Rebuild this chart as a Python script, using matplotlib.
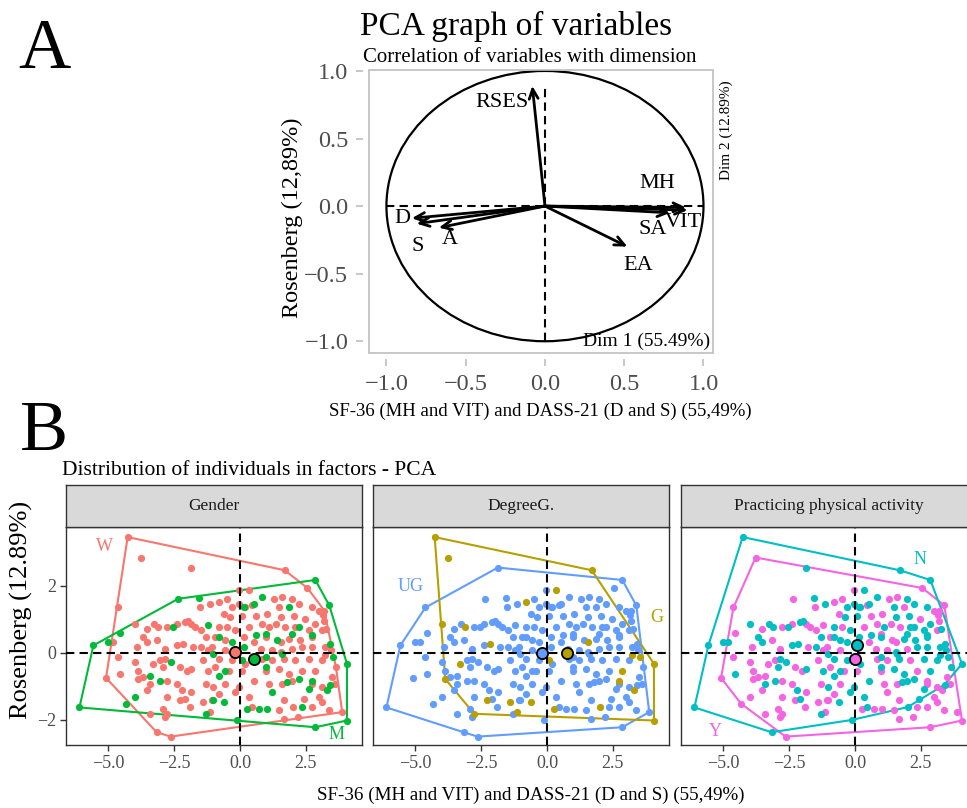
import matplotlib.pyplot as plt
from matplotlib.patches import Circle, Polygon, Rectangle

FIG_W, FIG_H = 967, 808
plt.rcParams["font.family"] = ["Liberation Serif", "DejaVu Serif"]

TICK_GRAY = "#4d4d4d"

# ---- panel A: variable loadings on Dim 1 / Dim 2
var_names = ["RSES", "MH", "VIT", "SA", "EA", "D", "S", "A"]
var_x = [-0.08, 0.89, 0.90, 0.79, 0.52, -0.84, -0.81, -0.67]
var_y = [0.89, -0.01, -0.03, -0.05, -0.30, -0.09, -0.13, -0.16]
var_label_x = [-0.27, 0.71, 0.87, 0.68, 0.59, -0.90, -0.80, -0.60]
var_label_y = [0.77, 0.17, -0.12, -0.17, -0.44, -0.09, -0.30, -0.25]

# ---- panel B: individual coordinates (same individuals in every facet)
# codes: gender W/M, degree U(=UG)/G, activity Y/N
ind_x = [
    # hull / outer individuals
    -4.26, -3.77, -1.86, 1.70, 2.56, 3.20, 3.64, 3.88, -2.63, -3.16, -5.08, -4.61,
    -6.09, -5.56, -4.55, -2.34, -1.55, 2.86, 3.39, 4.06, 4.06, 2.86, -0.10,
    -2.76, -3.86, -3.97, -4.32, 3.40, 2.00, 0.34, 3.21, 3.52,
    # left half, women
    -3.54, -3.26, -3.10, -2.78, -2.40, -2.09, -1.96, -1.84, -1.71, -1.52,
    -1.14, -1.46, -1.27, -3.67, -3.16, -3.54, -3.92, -2.40, -2.15, -2.85,
    -1.77, -1.46, -1.20, -4.61, -3.98, -3.29, -3.03, -2.85, -2.91, -2.28,
    -2.02, -1.84, -1.39, -1.20, -3.86, -3.67, -4.55, -3.41, -3.54, -2.78,
    -2.40, -2.21, -1.84, -1.27, -1.01, -2.78, -2.28, -2.09, -2.91, -1.90,
    -1.39, -2.85, -3.41, -1.14, -4.80,
    # left half, men
    -4.99, -2.55, -1.20, -1.01, -2.63, -3.03, -3.41, -3.98, -1.01, -1.27,
    # right half, women
    -0.80, -0.49, -0.30, -0.04, -0.04, 0.21, 0.46, 1.28, 1.60, 1.98,
    1.47, 2.23, 2.73, 2.99, 3.15, -0.61, -0.36, 0.08, 0.59, 1.03,
    1.54, 2.04, 2.48, 2.86, 3.18, -0.80, -0.49, -0.17, 0.34, 0.84,
    1.09, 1.35, 1.72, 2.10, 2.61, 3.11, 3.25, -0.93, -0.55, 0.15,
    0.53, 0.97, 1.54, 1.85, 2.29, 2.73, -1.05, -0.55, 0.78, 1.22,
    1.54, 1.98, 2.36, 2.73, 3.24, -0.80, -0.30, 0.21, 0.84, 1.22,
    1.66, 2.10, 2.61, 3.11, 3.45, -0.93, -0.42, 0.08, 0.53, 0.97,
    1.47, 1.85, 2.36, 2.86, 3.49, -0.55, -0.04, 1.09, 1.60, 1.98,
    2.73, 3.11, 3.62, -0.80, -0.17, 0.34, 1.66, 2.42, 2.99, 2.73,
    3.11, 2.20, 1.66, -1.05, 0.46, 1.47, 3.37,
    # right half, men
    0.84, 0.53, 1.85, 0.15, 2.23, -0.80, 0.59, 0.97, 1.98, 2.73,
    -0.30, 0.15, 0.97, 1.60, 1.41, 0.08, 0.97, 1.79, 2.23, 2.73,
    2.61, 1.22, 3.30, -0.55, -0.80, 0.27, 0.71, 1.03, 2.36, -0.61,
    3.43,
]
ind_y = [
    3.45, 2.84, 2.54, 2.46, 1.93, 1.26, -0.43, -1.77, -2.50, -2.37, -0.75, 1.35,
    -1.63, 0.22, 0.60, 1.61, 1.64, 2.17, 1.41, -0.33, -2.02, -2.22, -2.00,
    -1.82, -0.78, 0.87, -1.52, -0.95, -1.62, 1.86, -0.08, -0.13,
    0.72, 0.87, 0.77, 0.77, 0.87, 0.91, 0.96, 0.87, 0.77, 1.36,
    1.46, 0.67, 0.47, 0.47, 0.37, 0.32, 0.17, 0.22, 0.27, 0.12,
    0.17, 0.17, 0.07, -0.13, -0.28, -0.33, -0.23, -0.18, -0.43, -0.43,
    -0.53, -0.48, -0.23, -0.53, -0.53, -0.73, -0.63, -0.93, -1.12, -0.83,
    -0.93, -1.12, -1.17, -0.93, -1.03, -1.32, -1.42, -1.37, -1.67, -1.62,
    -1.47, -1.92, -1.82, -1.77, 0.32,
    0.32, 0.77, 0.82, -0.03, -0.28, -0.85, -0.68, -1.32, -1.42, -1.82,
    1.51, 1.61, 1.36, 1.46, 1.86, 1.36, 1.41, 1.61, 1.66, 1.61,
    1.36, 1.46, 1.36, 1.26, 1.14, 1.16, 1.06, 1.11, 1.11, 1.16,
    1.06, 1.11, 1.01, 0.87, 0.96, 0.77, 0.77, 0.67, 0.77, 0.87,
    0.77, 0.87, 0.77, 0.77, 0.67, 0.67, 0.70, 0.47, 0.37, 0.47,
    0.32, 0.47, 0.32, 0.42, 0.37, 0.47, 0.17, 0.07, 0.12, 0.07,
    0.02, 0.12, 0.17, 0.17, 0.17, -0.18, -0.23, -0.33, -0.18, -0.23,
    -0.18, -0.23, -0.18, -0.23, 0.07, -0.43, -0.53, -0.53, -0.83, -0.53,
    -0.48, -0.63, -0.53, -0.53, -0.73, -0.93, -1.03, -0.93, -0.93, -0.83,
    -0.93, -1.03, -0.93, -1.22, -1.17, -1.32, -1.42, -1.37, -1.32, -1.62,
    -1.47, -1.92, -1.97, -1.42, -1.62, -1.72, -1.72,
    1.66, 1.46, 1.36, 1.36, 0.77, 0.47, 0.52, 0.57, 0.57, 0.52,
    0.32, 0.17, -0.13, -0.03, 0.37, -0.23, -0.43, -0.88, -0.78, -0.83,
    -1.07, -1.17, -1.12, -0.53, -0.68, -1.67, -1.67, -1.67, -1.62, -1.47,
    0.27,
]
gender_codes = (
    "WWWWWWWWWWWW" "MMMMMMMMMMM" "WWW" "MM" "WWW" "M"
    + "W" * 55
    + "M" * 10
    + "W" * 97
    + "M" * 31
)
degree_codes = (
    "GGUGUUUUUUUU" "UUUUUUUGGUU" "GGG" "UU" "GGG" "G"
    "UUGUUUUUUU" "UUUUUUUUGU" "UUUUUGUUUU" "UUUUUUUUUU" "UUUUUUGUUU" "GUUGU"
    "UUUUUUUUUU"
    "GUUUUUUUUU" "UUUUUUUUUU" "UUUUUUUUUU" "UUUUUUUUUU" "UUGUUUUUUU"
    "UUUUUUUUUU" "UUUUUUUUUU" "UUUGUUUUUU" "UUUUUUUUUU" "UUUUUUU"
    "UUUUUUUUUU" "UUUUUGUUUG" "UUGUUGUUUG" "U"
)
activity_codes = (
    "NYNNYYNYYNYY" "NNYYNNYNYYN" "YYN" "YN" "NNN" "N"
    "YNNYYNNYYY" "NYNNYNYNNY" "YNYYYYYNNY" "YNYNYYNNYY" "YNYYNYYNYY" "YYYYN"
    "NNYNNNYYYN"
    "YYNNYNYYYN" "NNNYYYNNYY" "NNYNYNYNYY" "NYYNNYNYNN" "YNYNNNYYYY"
    "NYNNNNNNYY" "NYNNNYYYNY" "NNYNYYNYYN" "YYYYNNYNYY" "YYYYNYY"
    "NNYNNNNYNN" "NNNNYNNNNY" "NYYNNYYYYN" "N"
)

# group centroids
gender_levels = ["W", "M"]
gender_cx = [-0.17, 0.53]
gender_cy = [0.03, -0.18]
degree_levels = ["UG", "G"]
degree_cx = [-0.19, 0.76]
degree_cy = [-0.01, -0.01]
activity_levels = ["Y", "N"]
activity_cx = [0.02, 0.06]
activity_cy = [-0.18, 0.22]

level_label_xy = {"W": (-5.15, 3.16), "M": (3.66, -2.43), "UG": (-5.16, 1.97),
                  "G": (4.15, 1.06), "N": (2.47, 2.77), "Y": (-5.28, -2.36)}
level_colors = {"W": "#F8766D", "M": "#00BA38", "UG": "#619CFF",
                "G": "#B79F00", "N": "#00BFC4", "Y": "#F564E3"}


def px_rect(left, top, right, bottom):
    return [left / FIG_W, 1 - bottom / FIG_H, (right - left) / FIG_W, (bottom - top) / FIG_H]


def convex_hull(xs, ys):
    pts = sorted(set(zip(xs, ys)))
    if len(pts) < 3:
        return pts

    def cross(o, a, b):
        return (a[0] - o[0]) * (b[1] - o[1]) - (a[1] - o[1]) * (b[0] - o[0])

    lower, upper = [], []
    for p in pts:
        while len(lower) >= 2 and cross(lower[-2], lower[-1], p) <= 0:
            lower.pop()
        lower.append(p)
    for p in reversed(pts):
        while len(upper) >= 2 and cross(upper[-2], upper[-1], p) <= 0:
            upper.pop()
        upper.append(p)
    return lower[:-1] + upper[:-1]


fig = plt.figure(figsize=(FIG_W / 100, FIG_H / 100), dpi=100)
fig.patch.set_facecolor("white")

# ================= panel A =================
axA = fig.add_axes(px_rect(369, 70, 713, 353))
axA.set_xlim(-1.11, 1.06)
axA.set_ylim(-1.087, 1.007)
axA.add_patch(Circle((0, 0), 1.0, fill=False, lw=1.6, color="black"))
axA.plot([-1, 1], [0, 0], ls=(0, (4, 2.5)), color="black", lw=1.5)
axA.plot([0, 0], [-1, 0.9], ls=(0, (4, 2.5)), color="black", lw=1.5)
for name, x, y, lx, ly in zip(var_names, var_x, var_y, var_label_x, var_label_y):
    axA.annotate("", xy=(x, y), xytext=(0, 0),
                 arrowprops=dict(arrowstyle="->,head_length=0.7,head_width=0.32",
                                 color="black", lw=2.0, shrinkA=0, shrinkB=0))
    axA.text(lx, ly, name, fontsize=16, ha="center", va="center")
axA.text(1.04, -1.0, "Dim 1 (55.49%)", fontsize=14, ha="right", va="center")

for sp in axA.spines.values():
    sp.set_visible(False)
    sp.set_position(("outward", 4))
axA.add_patch(Rectangle((0, 0), 1, 1, transform=axA.transAxes, fill=False,
                        ec="#bdbdbd", lw=1.2, clip_on=False))
axA.set_xticks([-1.0, -0.5, 0.0, 0.5, 1.0])
axA.set_yticks([-1.0, -0.5, 0.0, 0.5, 1.0])
axA.tick_params(colors="#bdbdbd", labelcolor=TICK_GRAY, labelsize=17.5,
                length=5, width=1.2, pad=6)

fig.text(18 / FIG_W, 1 - 68 / FIG_H, "A", fontsize=52, ha="left", va="baseline")
fig.text(516 / FIG_W, 1 - 35 / FIG_H, "PCA graph of variables", fontsize=24,
         ha="center", va="baseline")
fig.text(530 / FIG_W, 1 - 62 / FIG_H, "Correlation of variables with dimension",
         fontsize=15, ha="center", va="baseline")
fig.text(726 / FIG_W, 1 - 130 / FIG_H, "Dim 2 (12.89%)", fontsize=11,
         rotation=90, ha="center", va="center")
fig.text(292 / FIG_W, 1 - 218 / FIG_H, "Rosenberg (12,89%)", fontsize=17.5,
         rotation=90, ha="center", va="center")
fig.text(540 / FIG_W, 1 - 411 / FIG_H, "SF-36 (MH and VIT) and DASS-21 (D and S) (55,49%)",
         fontsize=13.5, ha="center", va="center")

# ================= panel B =================
fig.text(20 / FIG_W, 1 - 450 / FIG_H, "B", fontsize=52, ha="left", va="baseline")
fig.text(62 / FIG_W, 1 - 475 / FIG_H, "Distribution of individuals in factors - PCA",
         fontsize=15.5, ha="left", va="baseline")

code_map = {"W": "W", "M": "M", "U": "UG", "G": "G", "Y": "Y", "N": "N"}
facets = [
    ("Gender", gender_codes, gender_levels, gender_cx, gender_cy),
    ("DegreeG.", degree_codes, degree_levels, degree_cx, degree_cy),
    ("Practicing physical activity", activity_codes, activity_levels, activity_cx, activity_cy),
]
panel_lefts = [66, 373, 681]
panel_width = 296

for left, (title, codes, levels, cxs, cys) in zip(panel_lefts, facets):
    right = left + panel_width
    ax = fig.add_axes(px_rect(left, 527, right, 745))
    ax.set_xlim(-6.6, 4.63)
    ax.set_ylim(-2.75, 3.75)
    ax.set_facecolor("white")

    for lev in levels:
        col = level_colors[lev]
        xs = [x for x, c in zip(ind_x, codes) if code_map[c] == lev]
        ys = [y for y, c in zip(ind_y, codes) if code_map[c] == lev]
        ax.scatter(xs, ys, s=27, color=col, lw=0, zorder=3)
        hull = convex_hull(xs, ys)
        ax.add_patch(Polygon(hull, closed=True, fill=False, ec=col, lw=1.5, zorder=2))
        lx, ly = level_label_xy[lev]
        ax.text(lx, ly, lev, color=col, fontsize=13, ha="center", va="center", zorder=6)

    ax.axhline(0, color="black", ls=(0, (4, 2.5)), lw=1.5, zorder=4)
    ax.axvline(0, color="black", ls=(0, (4, 2.5)), lw=1.5, zorder=4)
    for lev, cx, cy in zip(levels, cxs, cys):
        ax.scatter([cx], [cy], s=65, color=level_colors[lev], edgecolor="black",
                   lw=1.3, zorder=5)

    for sp in ax.spines.values():
        sp.set_color("#333333")
        sp.set_linewidth(1.0)
    ax.set_xticks([-5.0, -2.5, 0.0, 2.5])
    ax.set_yticks([-2, 0, 2])
    ax.tick_params(colors="#333333", labelcolor=TICK_GRAY, labelsize=13,
                   length=4, width=1.0, pad=3)
    if left != panel_lefts[0]:
        ax.set_yticklabels([])
        ax.tick_params(axis="y", length=0)

    strip = fig.add_axes(px_rect(left, 485, right, 527))
    strip.set_facecolor("#d9d9d9")
    strip.set_xticks([])
    strip.set_yticks([])
    for sp in strip.spines.values():
        sp.set_color("#333333")
        sp.set_linewidth(1.0)
    strip.text(0.5, 0.5, title, fontsize=12.5, color="#1a1a1a",
               ha="center", va="center", transform=strip.transAxes)

fig.text(21 / FIG_W, 1 - 610 / FIG_H, "Rosenberg (12.89%)", fontsize=19,
         rotation=90, ha="center", va="center")
fig.text(531 / FIG_W, 1 - 795 / FIG_H, "SF-36 (MH and VIT) and DASS-21 (D and S) (55,49%)",
         fontsize=13.7, ha="center", va="center")

fig.savefig("out.png", dpi=100)
